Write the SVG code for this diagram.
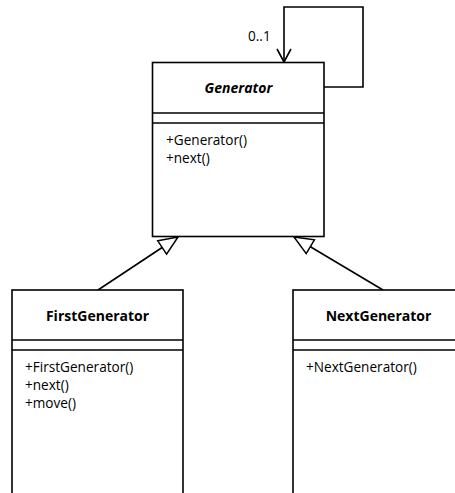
<svg xmlns="http://www.w3.org/2000/svg" width="455" height="493" viewBox="0 0 455 493">
  <style>
    .box { fill: #ffffff; stroke: #000000; stroke-width: 1.6; }
    .sep { stroke: #000000; stroke-width: 1.6; }
    .title { font-family: "Open Sans", "Noto Sans", "Liberation Sans", sans-serif; font-size: 14px; font-weight: bold; fill: #000000; text-anchor: middle; }
    .member { font-family: "Open Sans", "Noto Sans", "Liberation Sans", sans-serif; font-size: 13.6px; fill: #000000; }
    .edge { fill: none; stroke: #000000; stroke-width: 1.6; }
    .label { font-family: "Open Sans", "Noto Sans", "Liberation Sans", sans-serif; font-size: 13.6px; fill: #000000; }
  </style>
  <defs>
    <marker id="inherit" viewBox="0 0 22 20" refX="20" refY="10" markerWidth="22" markerHeight="20" markerUnits="userSpaceOnUse" orient="auto">
      <path d="M1,2 L20,10 L1,18 Z" fill="#ffffff" stroke="#000000" stroke-width="1.5"/>
    </marker>
    <marker id="open" viewBox="0 0 20 20" refX="16" refY="10" markerWidth="20" markerHeight="20" markerUnits="userSpaceOnUse" orient="auto">
      <path d="M3,3 L16,10 L3,17" fill="none" stroke="#000000" stroke-width="1.6"/>
    </marker>
  </defs>

  <rect width="455" height="493" fill="#ffffff"/>

  <g id="connectors">
    <!-- self association on Generator -->
    <polyline class="edge" points="324,87 363,87 363,7 284,7 284,62" marker-end="url(#open)"/>
    <text class="label" x="248" y="41">0..1</text>
    <!-- generalizations -->
    <line class="edge" x1="98" y1="290" x2="178" y2="237" marker-end="url(#inherit)"/>
    <line class="edge" x1="383" y1="290" x2="294" y2="237" marker-end="url(#inherit)"/>
  </g>

  <g id="Generator">
    <rect class="box" x="152.5" y="62.5" width="171.5" height="174"/>
    <line class="sep" x1="152.5" y1="113" x2="324" y2="113"/>
    <line class="sep" x1="152.5" y1="123" x2="324" y2="123"/>
    <text class="title" x="238.5" y="93" font-style="italic">Generator</text>
    <text class="member" x="166" y="145">+Generator()</text>
    <text class="member" x="166" y="163">+next()</text>
  </g>

  <g id="FirstGenerator">
    <rect class="box" x="12" y="290" width="171" height="210"/>
    <line class="sep" x1="12" y1="340" x2="183" y2="340"/>
    <line class="sep" x1="12" y1="350" x2="183" y2="350"/>
    <text class="title" x="97.5" y="321">FirstGenerator</text>
    <text class="member" x="25" y="372">+FirstGenerator()</text>
    <text class="member" x="25" y="390">+next()</text>
    <text class="member" x="25" y="408">+move()</text>
  </g>

  <g id="NextGenerator">
    <rect class="box" x="293" y="290" width="171" height="210"/>
    <line class="sep" x1="293" y1="340" x2="464" y2="340"/>
    <line class="sep" x1="293" y1="350" x2="464" y2="350"/>
    <text class="title" x="378.5" y="321">NextGenerator</text>
    <text class="member" x="306" y="372">+NextGenerator()</text>
  </g>
</svg>
